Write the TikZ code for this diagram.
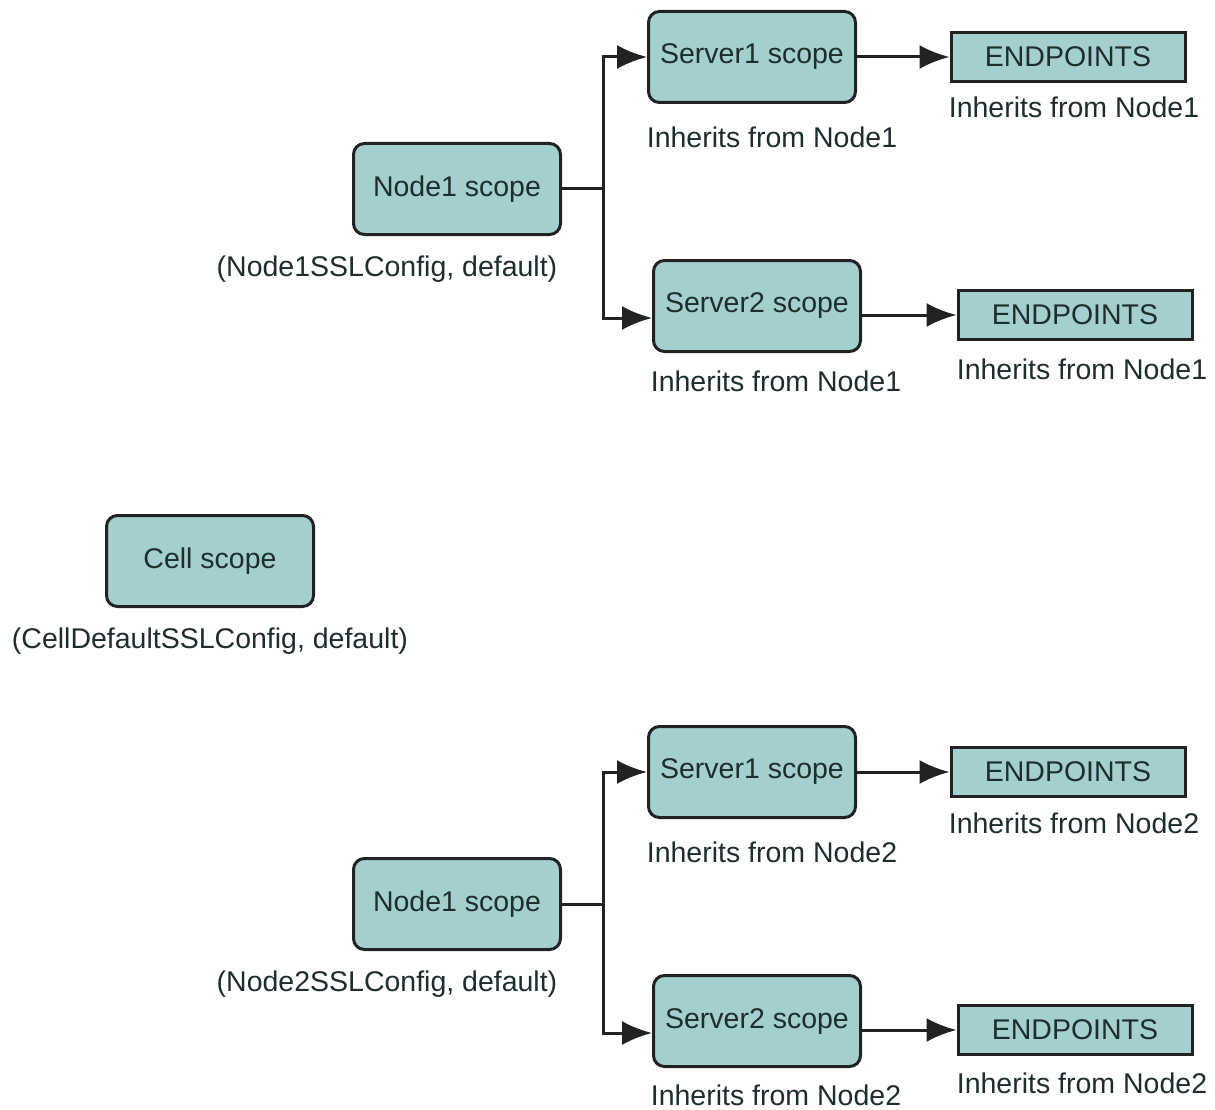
\documentclass[tikz,border=0pt]{standalone}
\usepackage{fontspec}
\setmainfont{Liberation Sans}
\usetikzlibrary{arrows.meta}
\definecolor{boxfill}{HTML}{A4CFCF}
\definecolor{boxline}{HTML}{222222}
\definecolor{txt}{HTML}{1E2E2E}
\tikzset{
  scopebox/.style={draw=boxline, line width=3pt, fill=boxfill, rounded corners=11pt,
    minimum width=207pt, minimum height=91pt, inner sep=0pt, text=txt,
    font=\fontsize{28.5}{32}\selectfont},
  endbox/.style={draw=boxline, line width=3pt, fill=boxfill,
    minimum width=234pt, minimum height=49pt, inner sep=0pt, text=txt,
    font=\fontsize{28.5}{32}\selectfont},
  lbl/.style={inner sep=0pt, text=txt, font=\fontsize{28.5}{32}\selectfont},
  conn/.style={draw=boxline, line width=3pt},
  arr/.style={conn, -{Latex[length=30pt,width=24pt]}}
}
\begin{document}
\begin{tikzpicture}[x=1pt,y=-1pt]
\useasboundingbox[fill=white] (0,0) rectangle (1215,1110);

% ---------- top group ----------
\node[scopebox] (n1) at (457,189) {Node1 scope};
\node[lbl] (n1l) at (387,269) {(Node1SSLConfig, default)};
\node[scopebox] (s1) at (752,57) {Server1 scope};
\node[lbl] (s1l) at (772,137) {Inherits from Node1};
\node[endbox] (e1) at (1068,57) {ENDPOINTS};
\node[lbl] (e1l) at (1074,107) {Inherits from Node1};
\node[scopebox] (s2) at (757,306) {Server2 scope};
\node[lbl] (s2l) at (776,381) {Inherits from Node1};
\node[endbox] (e2) at (1075,315) {ENDPOINTS};
\node[lbl] (e2l) at (1082,369) {Inherits from Node1};
\coordinate (b1) at (603,189);
\coordinate (t2) at ([yshift=-12pt]s2.west);
\draw[conn] (n1.east) -- (b1);
\draw[arr] (b1) |- (s1.west);
\draw[arr] (b1) |- (t2);
\draw[arr] (s1.east) -- (e1.west);
\draw[arr] (s2.east |- e2.west) -- (e2.west);

% ---------- cell ----------
\node[scopebox] (c) at (210,561) {Cell scope};
\node[lbl] (cl) at (210,641) {(CellDefaultSSLConfig, default)};

% ---------- bottom group ----------
\node[scopebox] (m1) at (457,904) {Node1 scope};
\node[lbl] (m1l) at (387,984) {(Node2SSLConfig, default)};
\node[scopebox] (r1) at (752,772) {Server1 scope};
\node[lbl] (r1l) at (772,852) {Inherits from Node2};
\node[endbox] (f1) at (1068,772) {ENDPOINTS};
\node[lbl] (f1l) at (1074,823) {Inherits from Node2};
\node[scopebox] (r2) at (757,1021) {Server2 scope};
\node[lbl] (r2l) at (776,1095) {Inherits from Node2};
\node[endbox] (f2) at (1075,1030) {ENDPOINTS};
\node[lbl] (f2l) at (1082,1083) {Inherits from Node2};
\coordinate (b2) at (603,904);
\coordinate (t4) at ([yshift=-12pt]r2.west);
\draw[conn] (m1.east) -- (b2);
\draw[arr] (b2) |- (r1.west);
\draw[arr] (b2) |- (t4);
\draw[arr] (r1.east) -- (f1.west);
\draw[arr] (r2.east |- f2.west) -- (f2.west);
\end{tikzpicture}
\end{document}
